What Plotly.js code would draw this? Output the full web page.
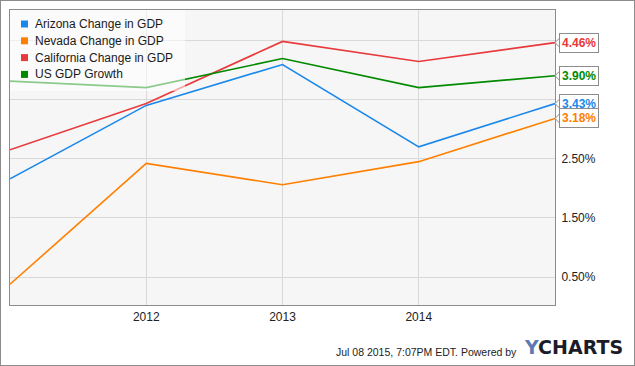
<!DOCTYPE html>
<html>
<head>
<meta charset="utf-8">
<script src="https://cdn.plot.ly/plotly-3.0.1.min.js"></script>
<style>
html,body{margin:0;padding:0;background:#fff;}
#chart{width:633px;height:364px;border:1px solid #8c8c8c;}
</style>
</head>
<body>
<div id="chart"></div>
<script>
// Data
var years = [2011, 2012, 2013, 2014, 2015];
var seriesNames = ["Arizona Change in GDP", "Nevada Change in GDP", "California Change in GDP", "US GDP Growth"];
var arizona    = [2.16, 3.40, 4.09, 2.70, 3.43];
var nevada     = [0.38, 2.42, 2.06, 2.45, 3.18];
var california = [2.65, 3.43, 4.48, 4.14, 4.46];
var usGrowth   = [3.81, 3.70, 4.19, 3.70, 3.90];
var xTickVals = [2012, 2013, 2014];
var xTickText = ["2012", "2013", "2014"];
var yTickVals = [0.5, 1.5, 2.5, 3.5, 4.5];
var yTickText = ["0.50%", "1.50%", "2.50%", "", ""];
var footerText = "Jul 08 2015, 7:07PM EDT. Powered by";

var seriesValues = [arizona, nevada, california, usGrowth];
var colors = ["#1a88ea", "#ff8000", "#e8393c", "#008a00"];
var FONT = "Liberation Sans, Arial, sans-serif";

var traces = [];
seriesValues.forEach(function (vals, i) {
  traces.push({
    type: "scatter", mode: "lines", x: years, y: vals, name: seriesNames[i],
    line: {color: colors[i], width: 1.6},
    showlegend: false, hoverinfo: "skip"
  });
});

var annotations = [];
var shapes = [];

// Legend (drawn manually to match the square-swatch style)
shapes.push({
  type: "rect", xref: "paper", yref: "paper",
  xsizemode: "pixel", ysizemode: "pixel", xanchor: 0, yanchor: 1,
  x0: 0, x1: 175, y0: 0, y1: -81,
  line: {width: 0}, fillcolor: "rgba(255,255,255,0.55)", layer: "above"
});
seriesNames.forEach(function (name, i) {
  var c = 14 + i * 16.8;
  shapes.push({
    type: "rect", xref: "paper", yref: "paper",
    xsizemode: "pixel", ysizemode: "pixel", xanchor: 0, yanchor: 1,
    x0: 11, x1: 18, y0: -(c - 3.5), y1: -(c + 3.5),
    line: {width: 0}, fillcolor: colors[i], layer: "above"
  });
  annotations.push({
    xref: "paper", yref: "paper", x: 0, y: 1,
    xanchor: "left", yanchor: "middle", xshift: 23, yshift: -c,
    text: name, showarrow: false,
    font: {family: FONT, size: 12, color: "#1a1a1a"}
  });
});

// End-value labels
seriesValues.forEach(function (vals, i) {
  var last = vals[vals.length - 1];
  annotations.push({
    xref: "paper", x: 1, yref: "y", y: last,
    xanchor: "left", yanchor: "middle", xshift: 4,
    text: "<b>" + last.toFixed(2) + "%</b>",
    showarrow: false,
    font: {family: FONT, size: 12, color: colors[i]},
    bgcolor: "#ffffff", bordercolor: "#8c8c8c", borderwidth: 1, borderpad: 2
  });
  shapes.push({
    type: "path", xref: "paper", yref: "y",
    xsizemode: "pixel", ysizemode: "pixel",
    xanchor: 1, yanchor: last,
    path: "M 5,5 L 0,0 L 5,-5",
    line: {color: "#8c8c8c", width: 1},
    fillcolor: "#ffffff", layer: "above"
  });
});

annotations.push({
  xref: "paper", yref: "paper", x: 0.934, y: -0.159,
  xanchor: "right", yanchor: "middle", showarrow: false,
  text: footerText,
  font: {family: FONT, size: 10.5, color: "#222"}
});
annotations.push({
  xref: "paper", yref: "paper", x: 0.94, y: -0.142,
  xanchor: "left", yanchor: "middle", showarrow: false,
  text: "<span style='color:#5b79b4'>Y</span>CHARTS",
  font: {family: "DejaVu Sans, Arial, sans-serif", size: 19, color: "#1c1c28", weight: "bold"}
});

var layout = {
  width: 633, height: 364,
  margin: {l: 9, r: 79, t: 9, b: 60},
  paper_bgcolor: "#ffffff",
  plot_bgcolor: "#f6f6f6",
  font: {family: FONT, size: 12, color: "#222"},
  xaxis: {
    range: [2011, 2015],
    tickvals: xTickVals, ticktext: xTickText,
    showgrid: true, gridcolor: "#d9d9d9", gridwidth: 1,
    zeroline: false, showline: true, linecolor: "#8c8c8c", linewidth: 1, mirror: true,
    ticks: "", ticklabelstandoff: 1,
    tickfont: {size: 12, color: "#222"}
  },
  yaxis: {
    range: [0.03, 5.01], side: "right",
    tickvals: yTickVals, ticktext: yTickText,
    showgrid: true, gridcolor: "#d9d9d9", gridwidth: 1,
    zeroline: false, showline: true, linecolor: "#8c8c8c", linewidth: 1, mirror: true,
    ticks: "", ticklabelstandoff: 3,
    tickfont: {size: 12, color: "#222"}
  },
  showlegend: false,
  annotations: annotations,
  shapes: shapes
};

Plotly.newPlot("chart", traces, layout, {displayModeBar: false, staticPlot: true});
</script>
</body>
</html>
